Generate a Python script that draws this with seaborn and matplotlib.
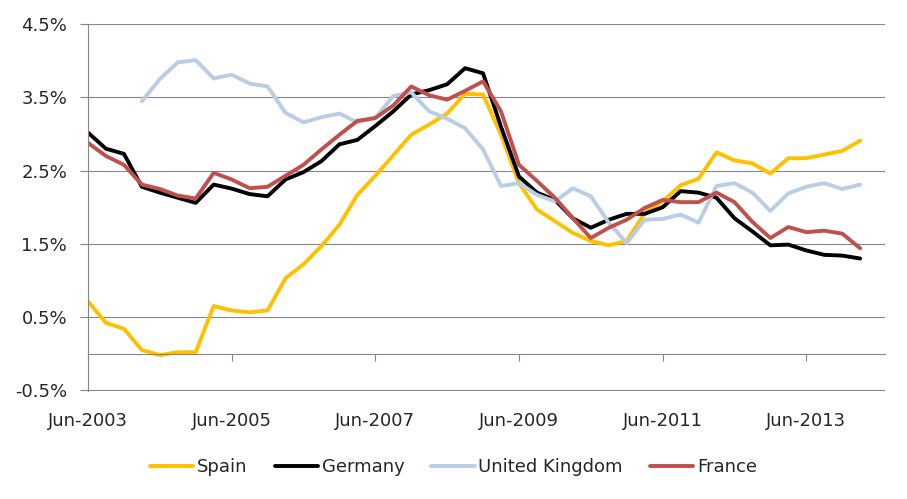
import numpy as np
import pandas as pd
import matplotlib
matplotlib.use("Agg")
import matplotlib.pyplot as plt
import seaborn as sns

# quarterly values, Jun-2003 .. Mar-2014 (in %)
quarters = pd.period_range("2003Q2", periods=44, freq="Q")
spain = [0.715, 0.42, 0.34, 0.05, -0.02, 0.02, 0.02, 0.65, 0.59, 0.565, 0.59, 1.03,
         1.22, 1.47, 1.76, 2.17, 2.43, 2.71, 2.99, 3.13, 3.28, 3.55, 3.54,
         2.99, 2.33, 1.97, 1.81, 1.65, 1.54, 1.48, 1.54, 1.92, 2.08, 2.30,
         2.39, 2.75, 2.64, 2.60, 2.46, 2.67, 2.67, 2.72, 2.77, 2.91]
germany = [3.02, 2.80, 2.73, 2.28, 2.20, 2.13, 2.06, 2.31, 2.255, 2.18, 2.15, 2.38,
           2.48, 2.63, 2.86, 2.92, 3.11, 3.31, 3.54, 3.60, 3.68, 3.90, 3.83,
           3.10, 2.42, 2.20, 2.10, 1.85, 1.72, 1.83, 1.91, 1.91, 2.00, 2.22,
           2.20, 2.13, 1.85, 1.67, 1.48, 1.49, 1.41, 1.35, 1.34, 1.30]
uk = [np.nan, np.nan, np.nan, 3.45, 3.75, 3.98, 4.01, 3.76, 3.81, 3.69, 3.65, 3.29,
      3.16, 3.23, 3.28, 3.16, 3.22, 3.52, 3.57, 3.31, 3.21, 3.08, 2.79,
      2.29, 2.33, 2.17, 2.08, 2.26, 2.15, 1.79, 1.51, 1.83, 1.84, 1.90,
      1.79, 2.29, 2.33, 2.20, 1.95, 2.19, 2.28, 2.33, 2.25, 2.31]
france = [2.88, 2.70, 2.58, 2.31, 2.25, 2.16, 2.12, 2.47, 2.38, 2.26, 2.28, 2.43,
          2.58, 2.79, 2.99, 3.18, 3.22, 3.39, 3.65, 3.53, 3.47, 3.59, 3.72,
          3.31, 2.58, 2.36, 2.13, 1.85, 1.58, 1.72, 1.83, 1.99, 2.10, 2.07,
          2.07, 2.20, 2.07, 1.80, 1.58, 1.73, 1.66, 1.68, 1.64, 1.44]

countries = ["Spain", "Germany", "United Kingdom", "France"]
colors = ["#FFC000", "#000000", "#B9CDE5", "#C0504D"]
yticks = [-0.5, 0.5, 1.5, 2.5, 3.5, 4.5]

wide = pd.DataFrame({"Spain": spain, "Germany": germany,
                     "United Kingdom": uk, "France": france})
wide["q"] = np.arange(len(quarters))
df = wide.melt(id_vars="q", var_name="country", value_name="rate").dropna()

sns.set_style("white")
plt.rcParams["font.family"] = ["DejaVu Sans"]
plt.rcParams["axes.unicode_minus"] = False

fig = plt.figure(figsize=(9.07, 4.99), dpi=100)
ax = fig.add_axes([0.097, 0.2164, 0.8787, 0.7350])

sns.lineplot(data=df, x="q", y="rate", hue="country", hue_order=countries,
             palette=colors, linewidth=2.8, ax=ax, legend=True)

grey = "#868686"
ax.set_xlim(0, 44.38)
ax.set_ylim(-0.51, 4.5)
ax.set_yticks(yticks)
ax.set_yticklabels([f"{v:.1f}%" for v in yticks])
ax.yaxis.grid(True, color=grey, linewidth=0.8)
ax.set_axisbelow(True)

tick_pos = np.arange(0, len(quarters), 8)
ax.set_xticks(tick_pos)
ax.set_xticklabels([quarters[i].strftime("Jun-%Y") for i in tick_pos])

for s in ["top", "right"]:
    ax.spines[s].set_visible(False)
ax.spines["left"].set_color(grey)
ax.spines["bottom"].set_color(grey)
ax.spines["bottom"].set_position(("data", 0))
ax.spines["left"].set_linewidth(0.8)
ax.spines["bottom"].set_linewidth(0.8)

ax.tick_params(axis="y", direction="out", length=6, color=grey, width=0.8,
               labelsize=13, pad=9, left=True)
ax.tick_params(axis="x", direction="out", length=5, color=grey, width=0.8,
               labelsize=13, pad=37, bottom=True)
ax.set_xlabel("")
ax.set_ylabel("")

ax.legend(handles=ax.get_legend_handles_labels()[0],
          labels=countries, loc="center", bbox_to_anchor=(0.5, 0.064),
          bbox_transform=fig.transFigure, ncol=4, frameon=False, fontsize=13,
          handlelength=2.4, handletextpad=0.2, columnspacing=1.5)

fig.savefig("out.png", dpi=100)
